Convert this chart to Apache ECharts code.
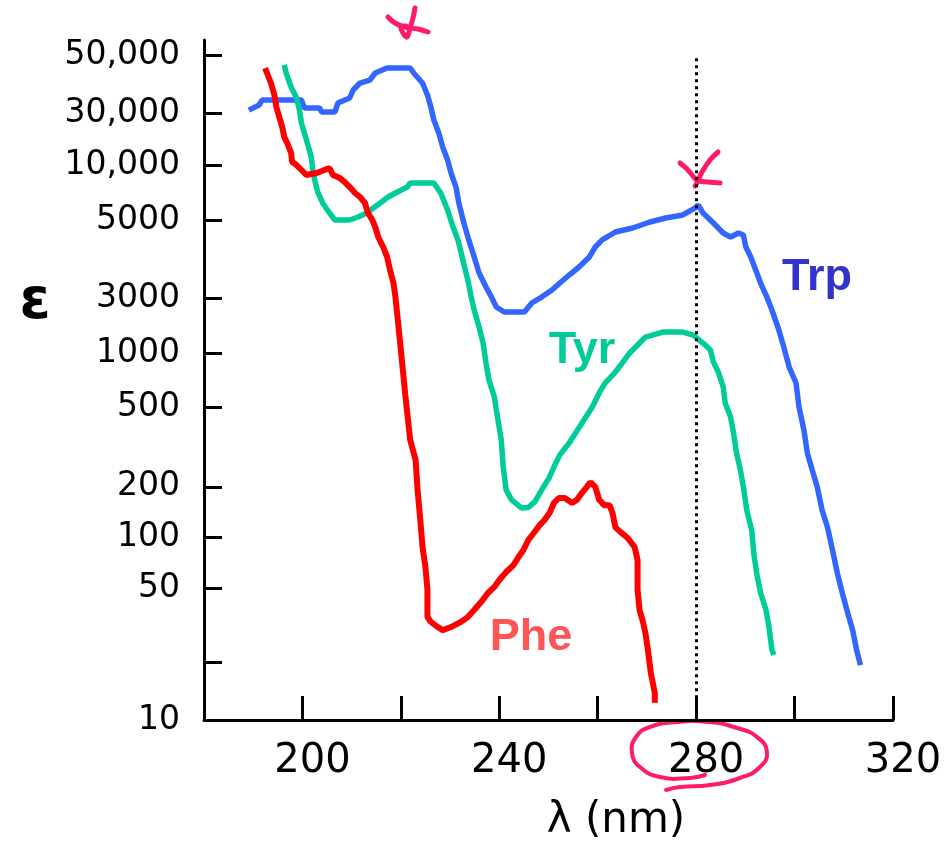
<!DOCTYPE html>
<html><head><meta charset="utf-8">
<script src="https://cdn.jsdelivr.net/npm/echarts@6/dist/echarts.min.js"></script>
<style>html,body{margin:0;padding:0;background:#fff}#c{width:950px;height:845px}</style>
</head><body><div id="c"></div>
<script>
// ---- data (wavelength nm, molar absorptivity ε) ----
const trp = [[189.1,19800],[191.2,21100],[191.8,22450],[199.8,22450],[200.4,20330],[203.5,20330],[203.9,19330],[206.6,19330],[207.2,21640],[209.6,23030],[210.3,25430],[211.7,27750],[213.7,28800],[214.8,31430],[217.2,33440],[221.9,33440],[222.6,31430],[224.4,27750],[225.4,23900],[226.1,20590],[226.7,17500],[227.7,14890],[228.5,12500],[229.5,10640],[230.2,9050],[231.2,7600],[231.8,6200],[232.8,4860],[233.8,3935],[234.9,3185],[235.9,2608],[237.3,2190],[238.4,1933],[239.4,1708],[241.0,1604],[245.1,1604],[246.6,1795],[248.6,1933],[250.7,2110],[252.3,2302],[254.2,2543],[256.2,2810],[258.3,3185],[259.5,3605],[260.9,3935],[263.6,4345],[267.1,4565],[270.6,4920],[273.8,5170],[277.3,5370],[279.8,5860],[280.4,6080],[281.4,5500],[283.5,4860],[285.5,4290],[287.0,4080],[288.6,4290],[289.6,4185],[290.1,3605],[291.1,3185],[292.1,2705],[293.1,2302],[294.2,1983],[295.4,1645],[296.8,1283],[297.8,1038],[298.9,809],[300.3,663],[300.9,492],[301.9,369],[302.6,277],[303.6,224],[304.6,182],[305.6,136],[306.7,110],[307.7,83],[308.7,62],[309.7,48.6],[310.8,37.9],[311.8,30.6],[312.6,23.9],[313.4,19.8]];
const tyr = [[196.3,34750],[196.7,31430],[197.7,26400],[198.8,23030],[199.4,19800],[199.8,16870],[200.4,14890],[201.0,13150],[201.8,11050],[202.1,9400],[202.5,8300],[203.1,7150],[204.1,6235],[205.5,5505],[206.6,5045],[209.6,5045],[211.3,5235],[213.1,5505],[214.4,5860],[215.8,6235],[217.4,6715],[219.3,7150],[221.3,7600],[221.9,8000],[226.7,8000],[228.1,7060],[229.5,5710],[230.6,4620],[231.6,3935],[232.6,3065],[233.6,2390],[234.3,1933],[234.9,1645],[235.9,1332],[236.7,1091],[237.3,851],[237.9,688],[239.0,557],[239.4,474],[240.4,326],[240.8,233],[241.4,175],[242.5,155],[244.5,140],[245.9,141],[247.2,151],[248.6,175],[250.1,203],[251.1,233],[252.3,271],[254.2,314],[258.9,492],[260.3,586],[261.5,663],[263.4,751],[265.0,851],[266.5,964],[267.7,1038],[269.7,1175],[273.2,1250],[277.3,1250],[279.4,1205],[281.4,1091],[282.9,1000],[283.5,861],[284.5,760],[285.5,631],[285.9,517],[287.0,434],[287.6,356],[288.2,277],[289.0,224],[289.6,182],[290.3,136],[291.3,106],[291.7,80],[292.3,62],[293.1,48.6],[294.2,39.3],[294.8,31.8],[295.4,23.9],[295.8,22.5]];
const phe = [[192.4,33440],[192.8,31430],[193.6,27750],[194.3,23900],[194.7,20590],[195.3,18160],[195.9,16040],[196.3,14160],[196.9,13150],[197.7,11610],[197.9,10380],[198.8,10000],[199.8,9400],[200.8,8830],[202.9,9050],[205.5,9640],[206.2,8830],[207.6,8500],[208.6,8090],[209.6,7600],[210.7,7060],[211.7,6715],[212.7,6235],[213.3,5505],[214.2,5045],[214.8,4620],[215.4,4080],[216.4,3605],[217.2,3185],[217.8,2705],[218.5,2302],[218.9,1933],[219.9,1064],[220.9,571],[221.9,326],[223.0,254],[223.4,175],[224.0,116],[224.4,86],[225.0,67],[225.4,50.4],[225.4,36.0],[226.1,33.9],[227.5,31.8],[228.5,30.6],[230.2,31.8],[232.2,33.9],[233.6,36.0],[234.9,39.3],[236.3,43.4],[237.7,48.6],[239.0,52.4],[240.0,57.1],[241.4,63.1],[242.9,68.8],[243.9,76.0],[244.9,83],[245.9,94],[247.0,102.5],[248.2,113],[249.2,120.5],[250.3,133],[251.1,149],[252.1,158.5],[253.3,158.5],[254.8,149],[255.8,155],[256.8,169],[257.8,182],[258.5,193],[259.5,182],[260.3,155],[261.3,145],[262.4,145],[263.0,131.5],[263.6,110],[264.6,104],[266.1,96.3],[267.5,86],[268.1,73.3],[268.1,50.4],[268.5,39.3],[269.1,34.7],[269.7,29.5],[270.2,23.9],[270.8,17.9],[271.6,14.0],[271.6,12.4]];

// ---- axes ----
const yTickValues = [10, 20.6, 51.7, 97.5, 182, 492, 964, 1910, 5045, 10000, 19100, 39350];
const yTickLabels = ['10', '', '50', '100', '200', '500', '1000', '3000', '5000', '10,000', '30,000', '50,000'];
const xTickValues = [200, 220, 240, 260, 280, 300, 320];
const xLabelValues = [200, 240, 280, 320];
const markerWavelength = 280;
const markerTop = 37800;

const PINK = '#ff1a6e';

function yLabel(v) {
  for (let i = 0; i < yTickValues.length; i++) {
    if (Math.abs(Math.log10(v) - Math.log10(yTickValues[i])) < 0.005) return yTickLabels[i];
  }
  return '';
}

const chart = echarts.init(document.getElementById('c'), null, {renderer: 'canvas'});

function line(name, data, color, width) {
  return {
    name, type: 'line', data, showSymbol: false, symbol: 'none',
    lineStyle: {color, width}, itemStyle: {color},
    emphasis: {disabled: true}, silent: true, z: 3
  };
}

const series = [
  line('Trp', trp, '#3366ff', 5.5),
  line('Tyr', tyr, '#00cc99', 5.5),
  line('Phe', phe, '#ff0000', 6)
];
series[0].markLine = {
  silent: true, symbol: 'none', label: {show: false},
  lineStyle: {color: '#000', type: [3, 4], width: 3},
  data: [[{coord: [markerWavelength, markerTop]}, {coord: [markerWavelength, 10]}]]
};

const option = {
  animation: false,
  backgroundColor: '#fff',
  grid: {left: 204, right: 57, top: 40, bottom: 125, containLabel: false},
  xAxis: {
    type: 'value', min: 180, max: 320, interval: 20,
    axisLine: {show: true, lineStyle: {color: '#000', width: 3}},
    axisTick: {show: true, inside: true, length: 24, lineStyle: {color: '#000', width: 3}, customValues: xTickValues},
    axisLabel: {
      customValues: xLabelValues,
      color: '#000', fontFamily: 'DejaVu Sans', fontSize: 40, margin: 22,
      padding: [0, 0, 0, 20]
    },
    splitLine: {show: false}
  },
  yAxis: {
    type: 'log', logBase: 10, min: 10, max: 47400,
    axisLine: {show: true, lineStyle: {color: '#000', width: 3}},
    axisTick: {show: true, inside: true, length: 18, lineStyle: {color: '#000', width: 3}, customValues: yTickValues},
    axisLabel: {
      customValues: yTickValues, formatter: yLabel,
      color: '#000', fontFamily: 'DejaVu Sans', fontSize: 33, margin: 24
    },
    splitLine: {show: false}
  },
  series,
  graphic: [
    {type: 'text', x: 35, y: 303, style: {text: 'ε', font: 'bold 56px "DejaVu Sans"', fill: '#000', align: 'center', verticalAlign: 'middle'}},
    {type: 'text', x: 616, y: 821, style: {text: 'λ (nm)', font: '42px "DejaVu Sans"', fill: '#000', align: 'center', verticalAlign: 'middle'}},
    {type: 'text', x: 817, y: 278, style: {text: 'Trp', font: 'bold 45px "Liberation Sans"', fill: '#3333cc', align: 'center', verticalAlign: 'middle'}},
    {type: 'text', x: 582, y: 351, style: {text: 'Tyr', font: 'bold 45px "Liberation Sans"', fill: '#00cc99', align: 'center', verticalAlign: 'middle'}},
    {type: 'text', x: 531, y: 638, style: {text: 'Phe', font: 'bold 45px "Liberation Sans"', fill: '#ff5555', align: 'center', verticalAlign: 'middle'}},
    // hand-drawn pink annotations
    {type: 'polyline', shape: {points: [[388,17],[395,23],[405,27],[418,29],[428,32]], smooth: 0.4}, style: {stroke: PINK, lineWidth: 5, fill: null, lineCap: 'round'}},
    {type: 'polyline', shape: {points: [[415,8],[413,18],[410,28],[407,37],[403,33],[401,27],[406,26]], smooth: 0.4}, style: {stroke: PINK, lineWidth: 5, fill: null, lineCap: 'round'}},
    {type: 'polyline', shape: {points: [[680,163],[688,170],[697,180],[708,182],[720,183]], smooth: 0.4}, style: {stroke: PINK, lineWidth: 5, fill: null, lineCap: 'round'}},
    {type: 'polyline', shape: {points: [[718,152],[710,160],[702,172],[697,183],[695,186]], smooth: 0.4}, style: {stroke: PINK, lineWidth: 5, fill: null, lineCap: 'round'}},
    {type: 'polyline', shape: {points: [[705,775],[690,778],[660,777],[640,767],[632,753],[636,737],[650,727],[677,722],[710,722],[737,728],[757,737],[767,752],[760,767],[740,778],[710,785],[680,787],[666,790]], smooth: 0.5}, style: {stroke: PINK, lineWidth: 4, fill: null, lineCap: 'round', lineJoin: 'round'}}
  ]
};
chart.setOption(option);
</script></body></html>
